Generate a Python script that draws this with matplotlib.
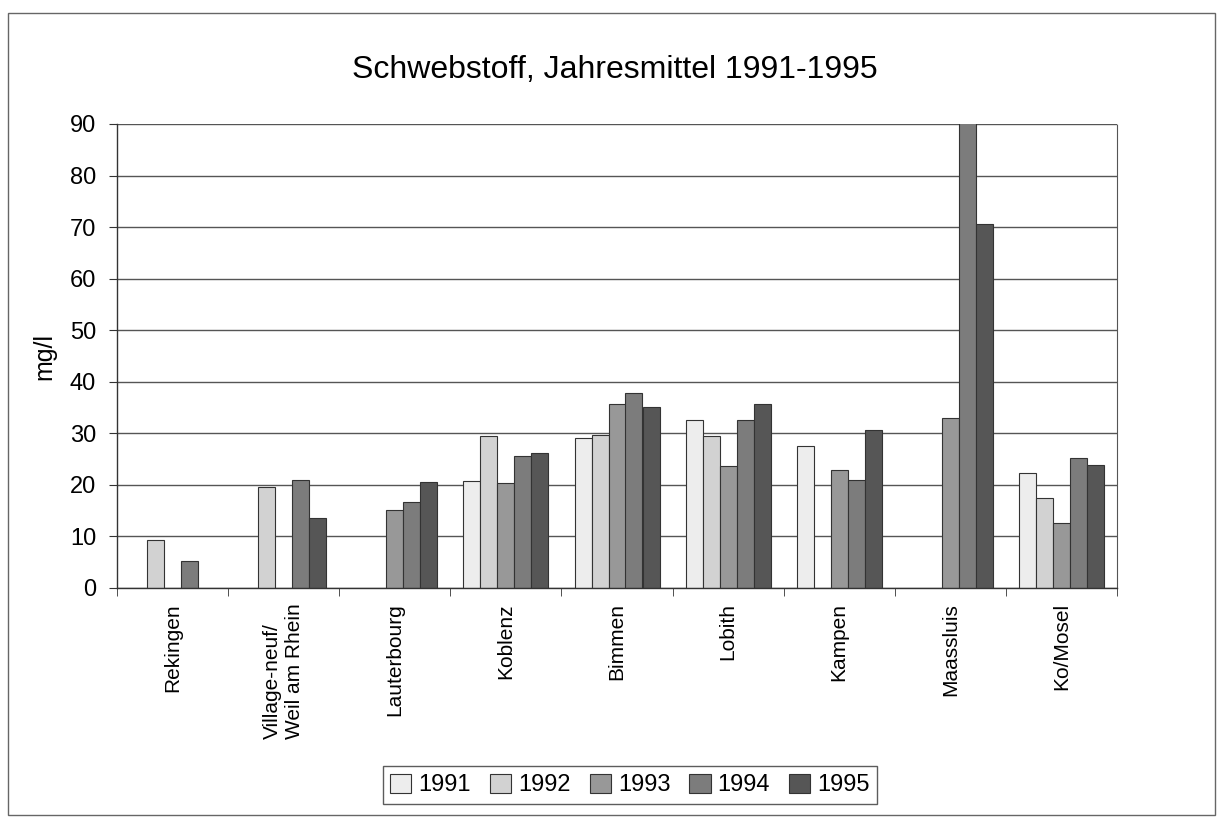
import numpy as np
import matplotlib
matplotlib.use("Agg")
from matplotlib import pyplot as plt
from matplotlib.patches import Rectangle

nan = np.nan

stations = ["Rekingen", "Village-neuf/\nWeil am Rhein", "Lauterbourg", "Koblenz",
            "Bimmen", "Lobith", "Kampen", "Maassluis", "Ko/Mosel"]
years = ["1991", "1992", "1993", "1994", "1995"]

v1991 = [nan, nan, nan, 20.7, 29.0, 32.6, 27.5, nan, 22.3]
v1992 = [9.3, 19.5, nan, 29.5, 29.7, 29.5, nan, nan, 17.4]
v1993 = [nan, nan, 15.1, 20.3, 35.7, 23.6, 22.9, 33.0, 12.6]
v1994 = [5.2, 21.0, 16.7, 25.6, 37.8, 32.6, 20.9, 91.0, 25.2]
v1995 = [nan, 13.5, 20.5, 26.2, 35.1, 35.7, 30.6, 70.7, 23.9]

series = [v1991, v1992, v1993, v1994, v1995]
colors = ["#ededed", "#d2d2d2", "#989898", "#7c7c7c", "#565656"]

plt.rcParams["font.family"] = ["Liberation Sans", "DejaVu Sans"]

fig = plt.figure(figsize=(12.22, 8.19), dpi=100)
ax = fig.add_axes([117 / 1222, 1 - 588 / 819, 1000 / 1222, 464 / 819])

x = np.arange(len(stations))
w = 0.153
for i, (vals, c, yr) in enumerate(zip(series, colors, years)):
    ax.bar(x + (i - 2) * w, vals, width=w, color=c, edgecolor="#333333",
           linewidth=0.8, label=yr)

ax.set_xlim(-0.5, len(stations) - 0.5)
ax.set_ylim(0, 90)
ax.set_yticks(np.arange(0, 91, 10))
ax.yaxis.grid(True, color="#555555", linewidth=1.0)
ax.set_axisbelow(True)

ax.set_xticks(x)
ax.set_xticklabels(stations, rotation=90, fontsize=15, va="top", ha="center",
                   multialignment="left")
ax.set_xticks(np.arange(-0.5, len(stations), 1), minor=True)
ax.tick_params(axis="x", which="major", length=0, pad=11)
ax.tick_params(axis="x", which="minor", length=6, direction="out", color="#333333")
ax.tick_params(axis="y", labelsize=17, length=6, direction="out", pad=9, color="#333333")

for s in ["left", "bottom"]:
    ax.spines[s].set_color("#333333")
    ax.spines[s].set_linewidth(1.0)
ax.spines["top"].set_visible(False)
ax.spines["right"].set_linestyle((0, (1, 1)))
ax.spines["right"].set_color("#555555")

ax.set_ylabel("mg/l", fontsize=18, labelpad=10)

fig.text(0.503, 1 - 70 / 819, "Schwebstoff, Jahresmittel 1991-1995",
         fontsize=23, ha="center", va="center")

leg = fig.legend(loc="center", bbox_to_anchor=(630 / 1222, 1 - 785 / 819), ncol=5,
                 fontsize=17, frameon=True, fancybox=False, handlelength=0.9,
                 handleheight=0.9, handletextpad=0.3, columnspacing=0.8,
                 borderpad=0.3)
leg.get_frame().set_edgecolor("#333333")
leg.get_frame().set_linewidth(1.0)

fig.patches.append(Rectangle((8 / 1222, 4 / 819), 1207 / 1222, 802 / 819,
                             transform=fig.transFigure, fill=False,
                             edgecolor="#666666", linewidth=1.0))

fig.savefig("out.png", dpi=100)
